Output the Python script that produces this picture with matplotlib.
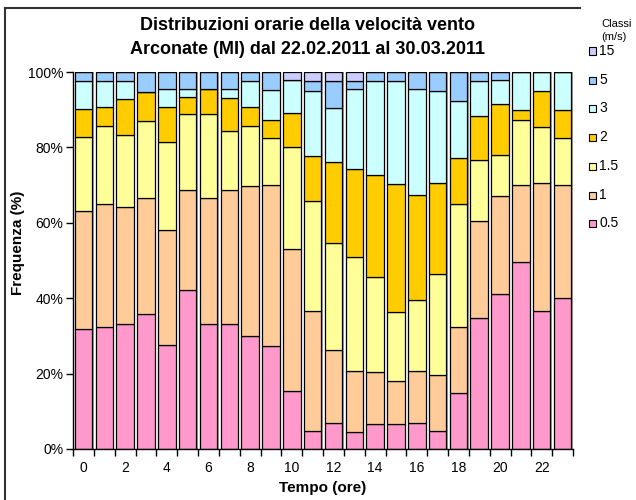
import matplotlib
matplotlib.use("Agg")
import matplotlib.pyplot as plt
from matplotlib.patches import Rectangle
from matplotlib.lines import Line2D
from matplotlib.ticker import FixedLocator, PercentFormatter
import numpy as np

plt.rcParams['font.family'] = ['Liberation Sans', 'DejaVu Sans']

hours = list(range(24))
classes = ["0.5", "1", "1.5", "2", "3", "5", "15"]
colors = ["#FF99CC", "#FFCC99", "#FFFF99", "#FFCC00", "#CCFFFF", "#99CCFF", "#CCCCFF"]

c05 = [31.7, 32.3, 33.2, 35.7, 27.7, 42.1, 33.2, 33.2, 30.1, 27.4, 15.4, 4.8,
       6.9, 4.5, 6.5, 6.5, 6.9, 4.8, 14.8, 34.8, 41.1, 49.7, 36.6, 40.0]
c1 = [31.5, 32.7, 31.0, 31.0, 30.4, 26.6, 33.5, 35.5, 39.6, 42.5, 37.7, 31.8,
      19.3, 16.2, 13.9, 11.5, 13.8, 14.7, 17.6, 25.7, 26.1, 20.2, 34.0, 29.9]
c15 = [19.6, 20.8, 19.0, 20.4, 23.2, 20.2, 22.2, 15.7, 16.1, 12.6, 26.9, 29.1,
       28.5, 30.3, 25.1, 18.3, 18.8, 26.9, 32.6, 16.2, 10.9, 17.5, 14.7, 12.6]
c2 = [7.4, 5.0, 9.7, 7.7, 9.5, 4.5, 6.5, 8.8, 5.0, 4.9, 9.0, 12.1,
      21.5, 23.3, 27.2, 33.9, 28.0, 24.2, 12.2, 11.6, 13.4, 2.5, 9.7, 7.4]
c3 = [7.3, 6.7, 4.6, 0.0, 4.6, 2.1, 0.0, 2.2, 6.7, 7.7, 8.9, 17.2,
      14.3, 21.1, 25.0, 27.5, 27.9, 24.4, 15.1, 9.2, 6.4, 10.1, 5.0, 10.1]
c5 = [2.5, 2.5, 2.5, 5.2, 4.6, 4.5, 4.6, 4.6, 2.5, 4.9, 0.0, 2.5,
      7.0, 2.1, 2.3, 2.3, 4.6, 5.0, 7.7, 2.5, 2.1, 0.0, 0.0, 0.0]
c15ms = [0.0, 0.0, 0.0, 0.0, 0.0, 0.0, 0.0, 0.0, 0.0, 0.0, 2.1, 2.5,
         2.5, 2.5, 0.0, 0.0, 0.0, 0.0, 0.0, 0.0, 0.0, 0.0, 0.0, 0.0]

series = [c05, c1, c15, c2, c3, c5, c15ms]

W, H = 636, 500
fig = plt.figure(figsize=(W / 100, H / 100), dpi=100)
ax = fig.add_axes([73 / W, 1 - 449 / H, 500 / W, 377 / H])

x = np.array(hours, dtype=float)
data = np.array(series)
data = data / data.sum(axis=0) * 100.0
bw = 0.84
# shadow
ax.bar(x + 0.07, data.sum(axis=0), width=bw, color="#a0a0a0", linewidth=0, zorder=1)
bottom = np.zeros(len(hours))
for vals, col in zip(data, colors):
    ax.bar(x, vals, bottom=bottom, width=bw, color=col, edgecolor="black",
           linewidth=0.9, zorder=2)
    bottom += vals

ax.set_xlim(-0.5, 23.5)
ax.set_ylim(0, 100)
ax.yaxis.set_major_locator(FixedLocator([0, 20, 40, 60, 80, 100]))
ax.yaxis.set_major_formatter(PercentFormatter(decimals=0))
ax.set_xticks(np.arange(-0.5, 24, 1.0))
ax.set_xticklabels([])
ax.set_xticks(np.arange(0, 24, 2), minor=True)
ax.set_xticklabels([str(h) for h in range(0, 24, 2)], minor=True)
ax.tick_params(axis='x', which='major', direction='out', length=5, width=1, color='black')
ax.tick_params(axis='x', which='minor', length=0, pad=9, labelsize=10)
ax.tick_params(axis='y', direction='out', length=5, width=1, labelsize=10, pad=2)
for s in ['top', 'right']:
    ax.spines[s].set_visible(False)
for s in ['left', 'bottom']:
    ax.spines[s].set_linewidth(1.0)
    ax.spines[s].set_zorder(3)

ax.set_xlabel("Tempo (ore)", fontsize=11, fontweight='bold', labelpad=4)
fig.text(18 / W, 1 - 243 / H, "Frequenza (%)", rotation=90, fontsize=11,
         fontweight='bold', ha='center', va='center')

fig.text(308 / W, 1 - 26 / H, "Distribuzioni orarie della velocità vento",
         fontsize=13, fontweight='bold', ha='center', va='center')
fig.text(308 / W, 1 - 50 / H, "Arconate (MI) dal 22.02.2011 al 30.03.2011",
         fontsize=13, fontweight='bold', ha='center', va='center')

# chart frame (left and top)
fig.add_artist(Line2D([5 / W, 580 / W], [1 - 8 / H, 1 - 8 / H], color="#333333", linewidth=1.5))
fig.add_artist(Line2D([5 / W, 5 / W], [1 - 8 / H, 0], color="#333333", linewidth=1.5))

# legend
fig.text(601 / W, 1 - 24 / H, "Classi", fontsize=8, ha='left', va='center')
fig.text(601 / W, 1 - 37 / H, "(m/s)", fontsize=8, ha='left', va='center')
leg_y = [223, 195, 166, 137, 108, 80, 51]
for lab, col, yy in zip(classes, colors, leg_y):
    fig.add_artist(Rectangle((589 / W, 1 - (yy + 3.5) / H), 7 / W, 7 / H,
                             facecolor=col, edgecolor='black', linewidth=0.8,
                             transform=fig.transFigure))
    fig.text(599 / W, 1 - yy / H, lab, fontsize=10, ha='left', va='center')

fig.savefig("out.png", dpi=100)
